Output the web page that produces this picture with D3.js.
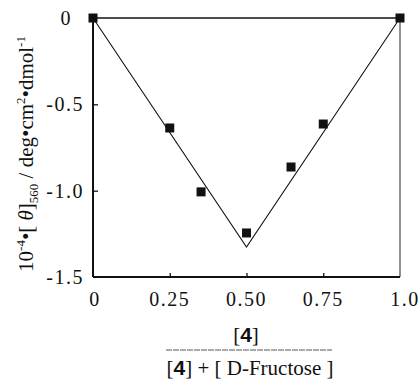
<!DOCTYPE html>
<html>
<head>
<meta charset="utf-8">
<script src="https://cdn.jsdelivr.net/npm/d3@7"></script>
<style>
  body { margin: 0; background: #fff; }
  svg { display: block; }
</style>
</head>
<body>
<svg width="419" height="383"></svg>
<script>
// Mole fraction of 4 and the measured ellipticity (10^-4 units)
const moleFraction = [0, 0.25, 0.352, 0.5, 0.645, 0.75, 1.0];
const ellipticity = [0, -0.637, -1.007, -1.245, -0.863, -0.614, 0];

// Straight-line fit drawn through the data (the V)
const fitX = [0, 0.5, 1.0];
const fitY = [0, -1.326, 0];

// Tick labels
const xTicks = [0, 0.25, 0.5, 0.75, 1.0];
const xTickLabels = ['0', '0.25', '0.50', '0.75', '1.0'];
const yTicks = [0, -0.5, -1.0, -1.5];
const yTickLabels = ['0', '-0.5', '-1.0', '-1.5'];

const svg = d3.select('svg');
const serif = 'Liberation Serif';
const sans = 'Liberation Sans';

// plot frame in pixels
const plotLeft = 93, plotRight = 400, plotTop = 18, plotBottom = 277;

const x = d3.scaleLinear().domain([0, 1]).range([plotLeft, plotRight]);
const y = d3.scaleLinear().domain([-1.5, 0]).range([plotBottom, plotTop]);

// frame: thick left/bottom, thinner top/right
svg.append('line').attr('x1', plotLeft).attr('x2', plotLeft).attr('y1', plotTop).attr('y2', plotBottom)
  .attr('stroke', '#111').attr('stroke-width', 2);
svg.append('line').attr('x1', plotLeft).attr('x2', plotRight).attr('y1', plotBottom).attr('y2', plotBottom)
  .attr('stroke', '#111').attr('stroke-width', 2);
svg.append('line').attr('x1', plotLeft).attr('x2', plotRight).attr('y1', plotTop).attr('y2', plotTop)
  .attr('stroke', '#111').attr('stroke-width', 1.5);
svg.append('line').attr('x1', plotRight).attr('x2', plotRight).attr('y1', plotTop).attr('y2', plotBottom)
  .attr('stroke', '#222').attr('stroke-width', 1);

// inward ticks
svg.append('g')
  .attr('transform', `translate(0,${plotBottom})`)
  .call(d3.axisTop(x).tickValues(xTicks.slice(1, -1)).tickSize(4).tickFormat(''))
  .call(g => g.select('.domain').remove())
  .call(g => g.selectAll('line').attr('stroke', '#111').attr('stroke-width', 1.3));
svg.append('g')
  .attr('transform', `translate(${plotLeft},0)`)
  .call(d3.axisRight(y).tickValues(yTicks.slice(1, -1)).tickSize(5).tickFormat(''))
  .call(g => g.select('.domain').remove())
  .call(g => g.selectAll('line').attr('stroke', '#111').attr('stroke-width', 1.3));

// tick labels
svg.append('g').selectAll('text')
  .data(xTicks)
  .enter().append('text')
    .attr('x', (d, i) => x(d) + (i === 0 ? 2 : i === xTicks.length - 1 ? 5 : 0))
    .attr('y', 306)
    .attr('text-anchor', 'middle')
    .style('font-family', serif)
    .attr('font-size', 20)
    .attr('letter-spacing', 1.5)
    .attr('fill', '#111')
    .text((d, i) => xTickLabels[i]);

svg.append('g').selectAll('text')
  .data(yTicks)
  .enter().append('text')
    .attr('x', (d, i) => i === 0 ? 72 : 84)
    .attr('y', d => y(d))
    .attr('dy', '0.35em')
    .attr('text-anchor', 'end')
    .style('font-family', serif)
    .attr('font-size', 20)
    .attr('letter-spacing', 1.5)
    .attr('fill', '#111')
    .text((d, i) => yTickLabels[i]);

// fitted V line
const line = d3.line().x(d => x(d[0])).y(d => y(d[1]));
svg.append('path')
  .datum(d3.zip(fitX, fitY))
  .attr('d', line)
  .attr('fill', 'none')
  .attr('stroke', '#111')
  .attr('stroke-width', 1.1);

// square markers
const size = 9;
svg.selectAll('.pt')
  .data(d3.zip(moleFraction, ellipticity))
  .enter().append('rect')
    .attr('class', 'pt')
    .attr('x', d => x(d[0]) - size / 2)
    .attr('y', d => y(d[1]) - size / 2)
    .attr('width', size)
    .attr('height', size)
    .attr('fill', '#111');

// y-axis title (rotated)
const yt = svg.append('text')
  .attr('transform', 'translate(33,154) rotate(-90)')
  .attr('text-anchor', 'middle')
  .style('font-family', serif)
  .attr('font-size', 21)
  .attr('fill', '#111');
yt.append('tspan').text('10');
yt.append('tspan').attr('font-size', 13).attr('dy', -8).text('-4');
yt.append('tspan').attr('dy', 8).text('•[ ');
yt.append('tspan').attr('font-style', 'italic').text('θ');
yt.append('tspan').text(']');
yt.append('tspan').attr('font-size', 13).attr('dy', 5).text('560');
yt.append('tspan').attr('dy', -5).text(' / deg•cm');
yt.append('tspan').attr('font-size', 13).attr('dy', -8).text('2');
yt.append('tspan').attr('dy', 8).text('•dmol');
yt.append('tspan').attr('font-size', 13).attr('dy', -8).text('-1');

// x-axis title as a fraction
const num = svg.append('text')
  .attr('x', 246).attr('y', 342)
  .attr('text-anchor', 'middle')
  .style('font-family', serif)
  .attr('font-size', 21)
  .attr('fill', '#111');
num.append('tspan').text('[');
num.append('tspan').style('font-family', sans).attr('font-weight', 'bold').text('4');
num.append('tspan').text(']');

svg.append('line')
  .attr('x1', 166).attr('x2', 332).attr('y1', 350).attr('y2', 350)
  .attr('stroke', '#555').attr('stroke-width', 1)
  .attr('stroke-dasharray', '6,1');

const den = svg.append('text')
  .attr('x', 250).attr('y', 375)
  .attr('text-anchor', 'middle')
  .style('font-family', serif)
  .attr('font-size', 21)
  .attr('fill', '#111');
den.append('tspan').text('[');
den.append('tspan').style('font-family', sans).attr('font-weight', 'bold').text('4');
den.append('tspan').text('] + [ D-Fructose ]');
</script>
</body>
</html>
